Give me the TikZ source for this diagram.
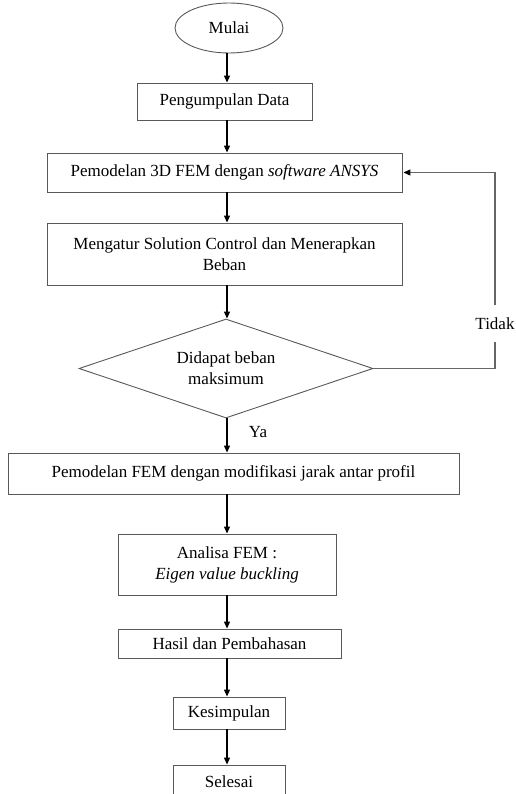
\documentclass[tikz,border=0pt]{standalone}
\usepackage{fontspec}
\setmainfont{Liberation Serif}
\usetikzlibrary{shapes.geometric,arrows.meta}
\begin{document}
\begin{tikzpicture}[x=1pt,y=-1pt,
  every node/.style={font=\rmfamily\fontsize{17}{21}\selectfont},
  box/.style={draw=black!65,line width=0.9pt,rectangle,inner sep=0pt,align=center},
  arr/.style={draw=black,line width=1.2pt,-{Triangle[length=7pt,width=6pt]}},
  fb/.style={draw=black!60,line width=1.1pt}]
\useasboundingbox (0,0) rectangle (515,794);
\clip (0,0) rectangle (515,794);
\coordinate (ax) at (227,0);
\node[draw=black!65,line width=0.9pt,ellipse,inner sep=0pt,minimum width=108pt,minimum height=50pt] (m) at (229,28) {Mulai};
\node[box,minimum width=175pt,minimum height=37pt] (b1) at (224.5,101.5) {Pengumpulan Data};
\node[box,minimum width=355pt,minimum height=39pt] (b2) at (224.5,172.5) {Pemodelan 3D FEM dengan \textit{software ANSYS}};
\node[box,minimum width=355pt,minimum height=62pt] (b3) at (224.5,254) {Mengatur Solution Control dan Menerapkan\\Beban};
\node[draw=black!65,line width=0.9pt,diamond,shape aspect=3,inner sep=0pt,align=center,minimum width=294pt,minimum height=99pt] (d) at (226,368.5) {Didapat beban\\maksimum};
\node[box,minimum width=451pt,minimum height=41pt] (b4) at (233.5,473.5) {Pemodelan FEM dengan modifikasi jarak antar profil};
\node[box,minimum width=218pt,minimum height=61pt] (b5) at (227,564.5) {Analisa FEM :\\\textit{Eigen value buckling}};
\node[box,minimum width=223pt,minimum height=29pt] (b6) at (229.5,643.5) {Hasil dan Pembahasan};
\node[box,minimum width=112pt,minimum height=32pt] (b7) at (229,713) {Kesimpulan};
\node[box,minimum width=112pt,minimum height=34pt] (b8) at (229,782) {Selesai};
\node[inner sep=0pt,minimum height=37pt] (tidak) at (495,323.5) {Tidak};
\node[inner sep=0pt] (ya) at (258,432) {Ya};
\draw[arr] (m.south -| ax) -- (b1.north -| ax);
\draw[arr] (b1.south -| ax) -- (b2.north -| ax);
\draw[arr] (b2.south -| ax) -- (b3.north -| ax);
\draw[arr] (b3.south -| ax) -- (d.north -| ax);
\draw[arr] (d.south -| ax) -- (b4.north -| ax);
\draw[arr] (b4.south -| ax) -- (b5.north -| ax);
\draw[arr] (b5.south -| ax) -- (b6.north -| ax);
\draw[arr] (b6.south -| ax) -- (b7.north -| ax);
\draw[arr] (b7.south -| ax) -- (b8.north -| ax);
\draw[fb] (d.east) -- (d.east -| tidak) -- (tidak.south);
\draw[fb] (tidak.north) -- (tidak.north |- b2.east) -- ([xshift=4pt]b2.east);
\draw[arr] ([xshift=5pt]b2.east) -- ([xshift=1pt]b2.east);
\end{tikzpicture}
\end{document}
